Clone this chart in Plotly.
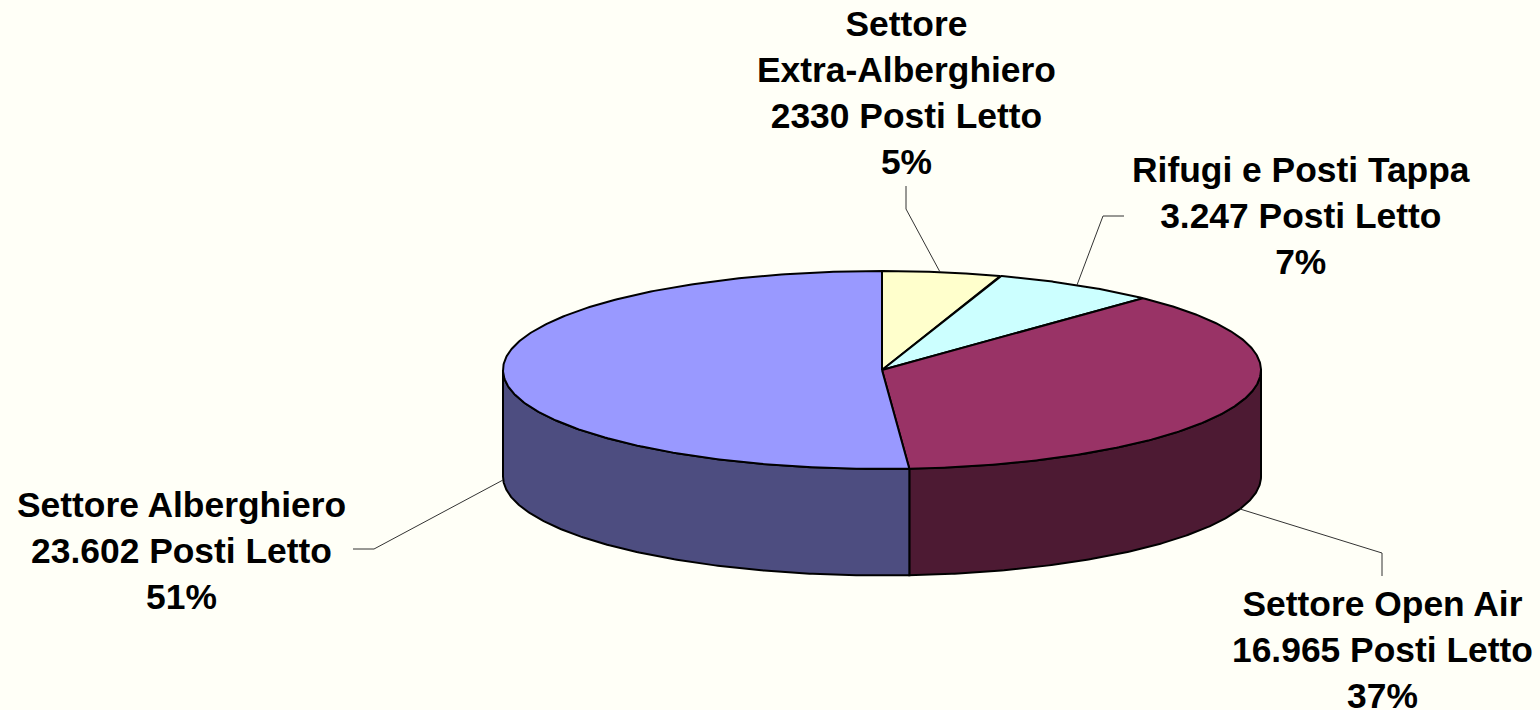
import numpy as np
import plotly.graph_objects as go

categories = ["Settore<br>Extra-Alberghiero", "Rifugi e Posti Tappa", "Settore Open Air", "Settore Alberghiero"]
values = [2330, 3247, 16965, 23602]
value_labels = ["2330", "3.247", "16.965", "23.602"]
percent_labels = ["5%", "7%", "37%", "51%"]

top_colors = ["#FFFFCC", "#CCFFFF", "#993366", "#9999FF"]
side_colors = ["#80806A", "#668080", "#4D1A33", "#4D4D80"]

W, H = 1540, 710
CX, CY, RX, RY, DEPTH = 882, 370, 379, 99, 106.5
BG = "#FFFFF7"


def ex(a):
    return CX + RX * np.sin(a)


def ey(a, drop=0.0):
    return CY - RY * np.cos(a) + drop


fig = go.Figure()
fractions = np.array(values) / sum(values)
edges = np.concatenate([[0], np.cumsum(fractions)]) * 2 * np.pi

# Side walls: only the part of each slice on the front half of the ellipse
for i in range(len(values)):
    a0, a1 = max(edges[i], np.pi / 2), min(edges[i + 1], 3 * np.pi / 2)
    if a1 <= a0:
        continue
    t = np.linspace(a0, a1, 200)
    xs = np.concatenate([ex(t), ex(t[::-1]), [ex(t[0])]])
    ys = np.concatenate([ey(t), ey(t[::-1], DEPTH), [ey(t[0])]])
    fig.add_trace(go.Scatter(x=xs, y=ys, mode="lines", fill="toself",
                             fillcolor=side_colors[i],
                             line=dict(color="black", width=2),
                             hoverinfo="skip", showlegend=False))

# Top face
for i in range(len(values)):
    t = np.linspace(edges[i], edges[i + 1], 300)
    xs = np.concatenate([[CX], ex(t), [CX]])
    ys = np.concatenate([[CY], ey(t), [CY]])
    fig.add_trace(go.Scatter(x=xs, y=ys, mode="lines", fill="toself",
                             fillcolor=top_colors[i],
                             line=dict(color="black", width=2),
                             hoverinfo="skip", showlegend=False))

# Leader lines
leaders = [
    ([906, 906, 940], [186, 209, 272]),
    ([1124, 1103, 1077], [216, 216, 285]),
    ([1382, 1382, 1240], [576, 553, 509]),
    ([353, 374, 503], [549, 549, 480]),
]
for lx, ly in leaders:
    fig.add_trace(go.Scatter(x=lx, y=ly, mode="lines",
                             line=dict(color="#333333", width=1),
                             hoverinfo="skip", showlegend=False))

# Labels
label_pos = [(906, 93), (1300.5, 216), (1382, 650), (181.5, 551)]
for cat, val, pct, (lx, ly) in zip(categories, value_labels, percent_labels, label_pos):
    fig.add_annotation(x=lx, y=ly, xref="x", yref="y", showarrow=False,
                       text=f"<b>{cat}<br>{val} Posti Letto<br>{pct}</b>",
                       align="center", xanchor="center", yanchor="middle",
                       font=dict(family="Liberation Sans", size=35.4, color="black"))

fig.update_layout(
    width=W, height=H, margin=dict(l=0, r=0, t=0, b=0),
    paper_bgcolor=BG, plot_bgcolor=BG, showlegend=False,
    xaxis=dict(range=[0, W], visible=False, fixedrange=True),
    yaxis=dict(range=[H, 0], visible=False, fixedrange=True),
)
fig.write_html(
    "out.html",
    config={"displayModeBar": False},
    post_script="document.body.style.margin='0';document.body.style.overflow='hidden';"
                "document.body.style.background='" + BG + "';",
)
